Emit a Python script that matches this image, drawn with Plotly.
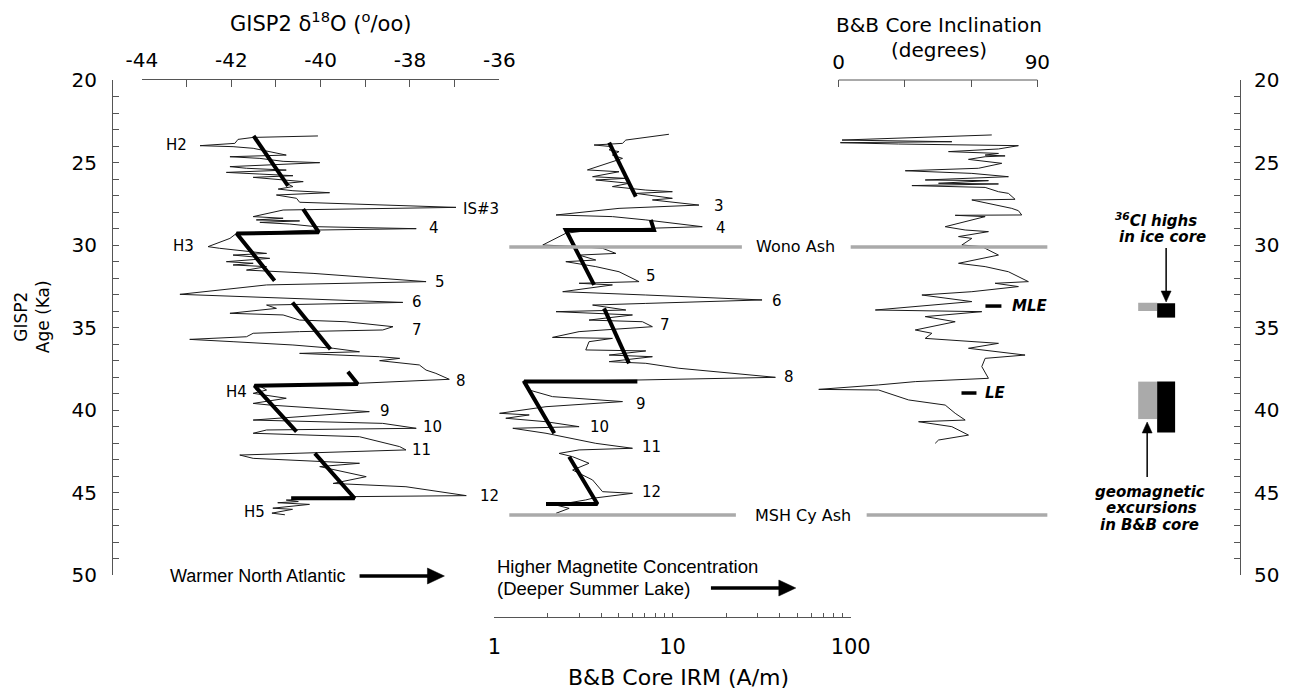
import plotly.graph_objects as go

# ---------------- data ----------------
# GISP2 delta-18O record: age (ka) and value (permil)
d18o_age = [23.39, 23.48, 23.60, 23.84, 23.98, 24.04, 24.14, 24.45, 24.55, 24.65,
            24.75, 24.93, 25.01, 25.25, 25.35, 25.46, 25.60, 25.70, 25.80, 25.90,
            26.16, 26.26, 26.46, 26.61, 26.71, 26.83, 26.97, 27.17, 27.41, 27.72,
            27.88, 28.28, 28.38, 28.48, 28.54, 28.63, 28.73, 28.89, 29.01, 29.09,
            29.29, 29.60, 29.90, 30.10, 30.20, 30.51, 30.61, 30.81, 31.01, 31.11,
            31.21, 31.31, 31.52, 31.62, 31.72, 32.22, 32.42, 32.99, 33.23, 33.48,
            33.64, 33.84, 34.14, 34.24, 34.55, 34.65, 34.95, 35.15, 35.25, 35.35,
            35.56, 35.72, 35.86, 36.06, 36.26, 36.47, 36.57, 36.77, 36.87, 37.01,
            37.27, 37.58, 37.78, 38.14, 38.38, 38.55, 38.79, 38.99, 39.29, 39.60,
            39.70, 40.10, 40.61, 40.81, 41.11, 41.21, 41.41, 41.62, 42.22, 42.42,
            42.73, 42.93, 43.23, 43.43, 44.04, 44.45, 44.65, 45.19, 45.25, 45.46,
            45.55, 45.62, 45.72, 45.95, 46.02, 46.25, 46.35]
d18o_val = [-40.06, -41.51, -41.85, -41.92, -42.70, -41.96, -41.51, -40.99, -40.77, -42.03,
            -41.36, -40.84, -40.02, -42.03, -41.66, -40.77, -42.11, -41.36, -40.62, -41.51,
            -40.39, -40.77, -40.62, -40.95, -40.62, -39.80, -40.99, -40.54, -40.47, -36.97,
            -40.84, -41.51, -40.84, -41.44, -40.47, -41.36, -40.69, -40.10, -37.86, -40.02,
            -41.88, -42.03, -42.33, -42.52, -42.26, -41.21, -41.96, -41.14, -42.11, -41.51,
            -41.96, -41.21, -41.66, -40.99, -40.17, -37.64, -41.21, -43.15, -40.47, -38.16,
            -41.21, -40.99, -42.03, -40.84, -40.47, -39.43, -38.38, -38.61, -40.47, -41.51,
            -41.66, -42.93, -41.96, -40.62, -39.72, -39.13, -40.47, -38.68, -38.23, -38.68,
            -37.79, -37.64, -37.42, -37.12, -39.13, -41.36, -41.21, -41.51, -40.77, -41.51,
            -41.14, -38.91, -41.51, -38.61, -37.86, -41.21, -41.51, -39.13, -38.23, -38.09,
            -41.81, -41.51, -39.13, -40.02, -38.98, -39.72, -38.09, -36.74, -39.28, -40.77,
            -40.50, -40.96, -40.25, -41.07, -40.63, -41.09, -40.80]

# Bond-cycle cooling trends on delta-18O (segments separated by None)
d18o_trend_age = [23.39, 26.42, None, 27.82, 29.23, 29.30, 32.16, None, 33.48, 36.32, None,
                  37.68, 38.42, 38.53, 41.31, None, 42.63, 45.35, 45.35]
d18o_trend_val = [-41.50, -40.73, None, -40.39, -40.04, -41.88, -41.03, None, -40.63, -39.78, None,
                  -39.39, -39.17, -41.48, -40.54, None, -40.13, -39.24, -40.66]

# B&B core IRM (A/m)
irm_age = [23.29, 23.64, 23.84, 23.94, 24.04, 24.24, 24.34, 24.55, 24.75, 24.95,
           25.45, 25.56, 25.86, 25.96, 26.06, 26.26, 26.46, 26.67, 26.77, 26.87,
           27.17, 27.27, 27.58, 27.78, 28.18, 28.28, 28.48, 28.89, 29.09, 29.29,
           30.00, 30.10, 30.20, 30.51, 30.61, 30.91, 31.01, 31.31, 31.62, 32.22,
           32.32, 32.42, 32.83, 33.03, 33.33, 33.54, 33.64, 33.94, 34.04, 34.24,
           34.55, 34.65, 34.95, 35.25, 35.60, 35.66, 35.86, 36.36, 36.42, 36.67,
           36.77, 37.07, 37.17, 37.47, 38.02, 38.18, 38.28, 38.79, 39.19, 39.49,
           39.80, 40.20, 40.30, 40.50, 40.71, 41.01, 41.11, 41.41, 42.02, 42.32,
           42.42, 42.63, 42.83, 43.23, 43.64, 44.24, 44.95, 45.05, 45.35, 45.45,
           45.76, 45.96, 46.26]
irm_val = [9.55, 5.47, 5.24, 3.63, 4.60, 4.41, 5.01, 4.60, 5.24, 4.60,
           3.33, 5.01, 3.56, 5.47, 3.71, 5.70, 4.60, 7.08, 9.98, 6.22,
           9.98, 7.71, 14.07, 5.01, 2.22, 4.60, 7.08, 14.69, 3.56, 2.52,
           1.87, 2.99, 4.05, 4.81, 2.99, 3.71, 2.52, 3.71, 5.01, 6.49,
           2.99, 4.60, 2.42, 7.08, 31.8, 7.08, 3.56, 5.47, 2.22, 5.96,
           3.40, 6.78, 7.71, 2.99, 2.12, 4.60, 3.40, 3.26, 7.08, 4.41,
           7.71, 4.41, 7.08, 10.86, 37.8, 6.49, 1.44, 1.57, 2.12, 5.24,
           1.95, 1.07, 1.57, 1.16, 1.95, 2.99, 1.27, 1.95, 3.71, 5.96,
           2.99, 2.31, 2.75, 3.40, 2.75, 3.56, 4.05, 5.96, 3.56, 3.26,
           2.22, 2.63, 2.22]

irm_trend_age = [23.80, 27.07, None, 28.48, 29.09, 29.09, 32.42, None, 33.84, 37.17, None,
                 38.28, 38.28, 41.41, None, 42.83, 45.70, 45.70]
irm_trend_val = [4.41, 6.22, None, 7.55, 7.87, 2.52, 3.63, None, 4.13, 5.70, None,
                 6.35, 1.47, 2.17, None, 2.63, 3.79, 1.95]

# B&B core inclination (degrees)
inc_age = [23.33, 23.64, 23.74, 23.80, 23.88, 23.98, 24.18, 24.34, 24.45, 24.55,
           24.60, 24.65, 24.81, 25.05, 25.35, 25.50, 25.66, 25.86, 26.06, 26.10,
           26.26, 26.30, 26.40, 26.51, 26.77, 26.87, 27.23, 27.27, 27.78, 27.92,
           28.18, 28.20, 28.28, 28.89, 29.09, 29.19, 29.49, 29.60, 30.00, 30.10,
           30.61, 31.11, 31.31, 31.62, 32.22, 32.32, 32.52, 32.83, 33.03, 33.43,
           33.94, 34.04, 34.34, 34.65, 35.15, 35.35, 35.66, 35.96, 36.26, 36.67,
           36.87, 37.37, 38.08, 38.28, 38.48, 38.75, 38.79, 39.39, 39.70, 40.20,
           40.61, 40.71, 41.01, 41.52, 41.82, 42.02]
inc_val = [69.35, 1.51, 51.26, 0.76, 27.14, 81.41, 72.37, 49.75, 72.37, 66.34,
           75.38, 66.34, 58.80, 73.87, 63.32, 30.15, 60.31, 76.89, 39.20, 67.84,
           45.23, 72.37, 33.17, 66.34, 72.37, 76.89, 79.90, 60.31, 78.40, 81.41,
           82.92, 52.77, 66.34, 48.24, 57.29, 67.84, 54.28, 60.31, 55.78, 64.83,
           72.37, 54.28, 66.34, 76.89, 85.93, 70.86, 81.41, 60.31, 37.69, 60.31,
           16.59, 64.83, 39.20, 52.77, 34.68, 42.21, 39.20, 72.37, 58.80, 84.43,
           66.34, 64.83, 67.84, 34.68, 18.09, -9.04, 18.09, 31.66, 48.24, 52.77,
           57.29, 36.18, 51.26, 58.80, 45.23, 43.72]

# ash layers (age ka)
ash_names = ["Wono Ash", "MSH Cy Ash"]
ash_ages = [30.12, 46.36]

# excursions: MLE, LE (age ka)
exc_names = ["MLE", "LE"]
exc_ages = [33.70, 38.97]

# interval blocks (age ranges ka)
geomag_ranges = [(33.50, 34.00), (38.28, 40.55)]   # grey: geomagnetic excursions in B&B core
cl36_ranges = [(33.53, 34.40), (38.28, 41.37)]     # black: 36Cl highs in ice core

# tick labels
age_ticks = list(range(20, 51))
age_text = [str(a) if a % 5 == 0 else "" for a in age_ticks]
d18o_ticks = list(range(-44, -35))
d18o_text = [str(v) if v % 2 == 0 else "" for v in d18o_ticks]
irm_ticks = [1, 2, 3, 4, 5, 6, 7, 8, 9, 10, 20, 30, 40, 50, 60, 70, 80, 90, 100]
irm_text = ["1", "", "", "", "", "", "", "", "", "10", "", "", "", "", "", "", "", "", "100"]
inc_ticks = [0, 30, 60, 90]
inc_text = ["0", "", "", "90"]

d18o_labels = [("H2", 177, 145), ("IS#3", 482, 209), ("4", 435, 228), ("H3", 184, 246),
               ("5", 441, 282), ("6", 418, 302), ("7", 418, 330), ("8", 462, 381),
               ("H4", 237, 392), ("9", 385, 411), ("10", 433, 427), ("11", 422, 450),
               ("12", 490, 496), ("H5", 255, 512)]
irm_labels = [("3", 720, 206), ("4", 722, 228), ("5", 652, 276), ("6", 778, 301),
              ("7", 666, 325), ("8", 790, 377), ("9", 642, 404), ("10", 600, 427),
              ("11", 652, 447), ("12", 652, 492)]

# ---------------- layout helpers ----------------
W, H = 1291, 689
L, R, T, B = 112, 1242, 80, 617
FONT = "DejaVu Sans, Verdana, sans-serif"
NARROW = "Liberation Sans, Arial, Helvetica, sans-serif"
AXC = "#555555"


def px(x):
    return (x - L) / (R - L)


def py(y):
    return (B - y) / (B - T)


INC_SCALE = (1039 - 840) / 90.0
inc_range = [-14, 96]
inc_dom = [px(840 + inc_range[0] * INC_SCALE), px(840 + inc_range[1] * INC_SCALE)]

fig = go.Figure()

line_thin = dict(color="#1a1a1a", width=1)
line_thick = dict(color="black", width=4)

fig.add_trace(go.Scatter(x=d18o_val, y=d18o_age, mode="lines", line=line_thin,
                         xaxis="x", yaxis="y", showlegend=False, hoverinfo="skip"))
fig.add_trace(go.Scatter(x=d18o_trend_val, y=d18o_trend_age, mode="lines", line=line_thick,
                         xaxis="x", yaxis="y", showlegend=False, hoverinfo="skip"))
fig.add_trace(go.Scatter(x=irm_val, y=irm_age, mode="lines", line=line_thin,
                         xaxis="x2", yaxis="y", showlegend=False, hoverinfo="skip"))
fig.add_trace(go.Scatter(x=irm_trend_val, y=irm_trend_age, mode="lines", line=line_thick,
                         xaxis="x2", yaxis="y", showlegend=False, hoverinfo="skip"))
fig.add_trace(go.Scatter(x=inc_val, y=inc_age, mode="lines", line=line_thin,
                         xaxis="x3", yaxis="y", showlegend=False, hoverinfo="skip"))
# invisible trace to register the right-hand age axis
fig.add_trace(go.Scatter(x=[d18o_ticks[0]], y=[age_ticks[0]], mode="markers",
                         marker=dict(opacity=0), xaxis="x", yaxis="y2",
                         showlegend=False, hoverinfo="skip"))


def tf(size):
    return dict(family=FONT, size=size, color="black")


common = dict(showgrid=False, zeroline=False, linecolor=AXC, linewidth=1,
              ticks="inside", tickcolor=AXC, tickwidth=1, tickmode="array")

ydom = [py(575), 1]
fig.update_layout(
    width=W, height=H,
    margin=dict(l=L, r=W - R, t=T, b=H - B, pad=0),
    paper_bgcolor="white", plot_bgcolor="white",
    font=dict(family=FONT, color="black"),
    xaxis=dict(domain=[px(142), px(500)], range=[-44, -36], side="top", anchor="y",
               showline=True, tickvals=d18o_ticks, ticktext=d18o_text, ticklen=7,
               ticklabelstandoff=4, tickfont=tf(20), **common),
    xaxis2=dict(domain=[px(495), px(852)], type="log", range=[0, 2], side="bottom",
                anchor="free", position=0, showline=True, tickvals=irm_ticks,
                ticktext=irm_text, ticklen=4, ticklabelstandoff=11, tickfont=tf(21),
                **common),
    xaxis3=dict(domain=inc_dom, range=inc_range, side="top", anchor="y",
                showline=False, tickvals=inc_ticks, ticktext=inc_text, ticklen=7,
                ticklabelstandoff=6, tickfont=tf(20), **common),
    yaxis=dict(domain=ydom, range=[50, 20], anchor="free", position=0, side="left",
               showline=True, tickvals=age_ticks, ticktext=age_text, ticklen=6,
               ticklabelstandoff=11, tickfont=tf(20), **common),
    yaxis2=dict(domain=ydom, range=[50, 20], anchor="free", position=1, side="right",
                overlaying="y", showline=True, tickvals=age_ticks, ticktext=age_text,
                ticklen=6, ticklabelstandoff=9, tickfont=tf(20), **common),
)

shapes = []
# inclination axis line (0..90 only)
shapes.append(dict(type="line", xref="x3", yref="paper", x0=inc_ticks[0], x1=inc_ticks[-1],
                   y0=1, y1=1, line=dict(color=AXC, width=1)))
# ash layer lines
ash_segments = [[(510, 743), (852, 1049)], [(510, 737), (868, 1049)]]
for age, segs in zip(ash_ages, ash_segments):
    for a, b in segs:
        shapes.append(dict(type="line", xref="paper", yref="y", x0=px(a), x1=px(b),
                           y0=age, y1=age, line=dict(color="#aaaaaa", width=3.5)))
# excursion markers
for age, (a, b) in zip(exc_ages, [(987, 1003), (963, 978)]):
    shapes.append(dict(type="line", xref="paper", yref="y", x0=px(a), x1=px(b),
                       y0=age, y1=age, line=dict(color="black", width=3.5)))
# interval blocks
for lo, hi in geomag_ranges:
    shapes.append(dict(type="rect", xref="paper", yref="y", x0=px(1140), x1=px(1159),
                       y0=lo, y1=hi, fillcolor="#aaaaaa", line=dict(width=0)))
for lo, hi in cl36_ranges:
    shapes.append(dict(type="rect", xref="paper", yref="y", x0=px(1159), x1=px(1177),
                       y0=lo, y1=hi, fillcolor="black", line=dict(width=0)))


def arrow(x0, y0, x1, y1, width, head_len, head_half):
    """Arrow from (x0,y0) to (x1,y1) in pixel layout coordinates (horizontal or vertical)."""
    if y0 == y1:  # horizontal, pointing right
        sx1 = x1 - head_len
        shapes.append(dict(type="line", xref="paper", yref="paper", x0=px(x0), x1=px(sx1 + 1),
                           y0=py(y0), y1=py(y1), line=dict(color="black", width=width)))
        path = (f"M {px(x1)},{py(y1)} L {px(sx1)},{py(y1 - head_half)} "
                f"L {px(sx1)},{py(y1 + head_half)} Z")
    else:  # vertical
        d = 1 if y1 > y0 else -1
        sy1 = y1 - d * head_len
        shapes.append(dict(type="line", xref="paper", yref="paper", x0=px(x0), x1=px(x1),
                           y0=py(y0), y1=py(sy1 + d), line=dict(color="black", width=width)))
        path = (f"M {px(x1)},{py(y1)} L {px(x1 - head_half)},{py(sy1)} "
                f"L {px(x1 + head_half)},{py(sy1)} Z")
    shapes.append(dict(type="path", xref="paper", yref="paper", path=path,
                       fillcolor="black", line=dict(color="black", width=0.5)))


arrow(360, 576, 445, 576, 3.5, 17, 8)
arrow(712, 588, 797, 588, 3.5, 17, 8)
arrow(1168, 248, 1168, 302, 1.5, 11, 5)
arrow(1149, 477, 1149, 422, 1.5, 11, 5)
fig.update_layout(shapes=shapes)

ann = []


def text(t, x, y, size=15, xanchor="center", yanchor="middle", angle=0, family=FONT):
    ann.append(dict(text=t, x=px(x), y=py(y), xref="paper", yref="paper",
                    showarrow=False, xanchor=xanchor, yanchor=yanchor, textangle=angle,
                    align="center", font=dict(family=family, size=size, color="black")))


text("GISP2 δ<sup>18</sup>O (<sup>o</sup>/oo)", 321, 22, size=21)
text("B&B Core Inclination", 940, 25, size=20)
text("(degrees)", 940, 50, size=20)
text("GISP2<br>Age (Ka)", 32, 317, size=17, angle=-90)
text("B&B Core IRM (A/m)", 680, 677, size=22)

for t, x, y in d18o_labels + irm_labels:
    text(t, x, y, size=15)

text(ash_names[0], 797, 246, size=16)
text(ash_names[1], 804, 515, size=16)
text("<b><i>" + exc_names[0] + "</i></b>", 1031, 306, size=15)
text("<b><i>" + exc_names[1] + "</i></b>", 997, 393, size=15)

text("<b><i><sup>36</sup>Cl highs</i></b>", 1158, 220, size=15)
text("<b><i>in ice core</i></b>", 1164, 237, size=15)
text("<b><i>geomagnetic</i></b>", 1152, 492, size=15)
text("<b><i>excursions</i></b>", 1153, 508, size=15)
text("<b><i>in B&B core</i></b>", 1151, 525, size=15)

text("Warmer North Atlantic", 168, 576, size=18, xanchor="left", family=NARROW)
text("Higher Magnetite Concentration", 496, 566, size=18.5, xanchor="left", family=NARROW)
text("(Deeper Summer Lake)", 496, 588, size=18.5, xanchor="left", family=NARROW)

fig.update_layout(annotations=ann)

fig.write_html("out.html", config={"displayModeBar": False},
               post_script="document.body.style.margin='0';")
